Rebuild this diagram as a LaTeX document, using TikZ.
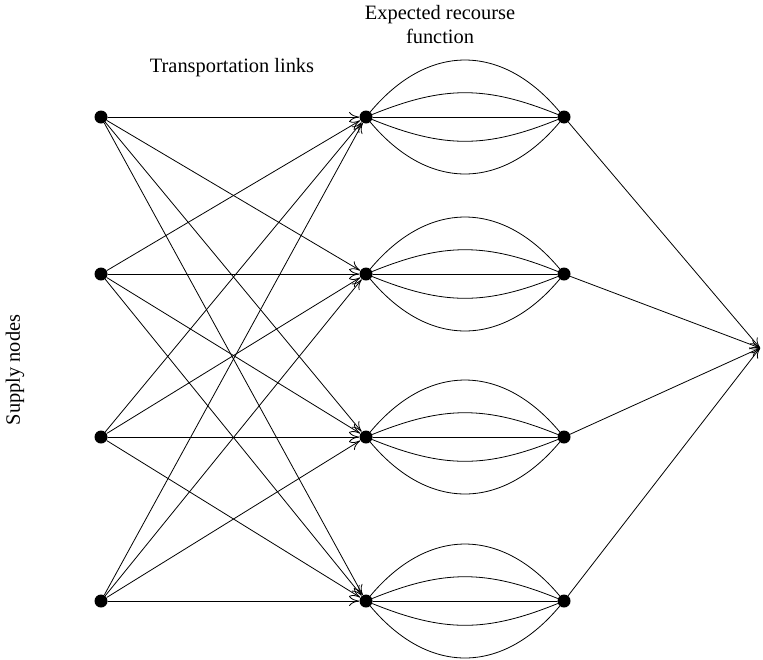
\documentclass[tikz,border=0pt]{standalone}
\usepackage{fontspec}
\setmainfont{Liberation Serif}
\usetikzlibrary{arrows.meta}

\begin{document}
\begin{tikzpicture}[x=0.5pt,y=-0.5pt,line join=round,line cap=round,>={To[length=5pt,width=5pt]},font=\fontsize{10.2}{12}\selectfont,
	dot/.style={circle,fill,inner sep=0pt,minimum size=6.5pt}]
	\useasboundingbox (0,0) rectangle (763,659);
	\def \xs{101};
	\def \xm{366};
	\def \xr{564};
	% nodes of the three columns
	\foreach \i/\y in {1/117,2/274,3/437,4/601}
	{
		\node[dot] (s\i) at (\xs,\y) {};
		\node[dot] (m\i) at (\xm,\y) {};
		\node[dot] (r\i) at (\xr,\y) {};
	}
	\coordinate (t) at (760,348);
	\foreach \i in {1,...,4}
	{
		\foreach \j in {1,...,4}
		{
			\draw[->] (s\i) -- (m\j);
		}
		\draw (m\i) -- (r\i);
		\draw (m\i) to[out=50,in=130,looseness=1.22] (r\i);
		\draw (m\i) to[out=22,in=158,looseness=1.07] (r\i);
		\draw (m\i) to[out=-22,in=-158,looseness=1.07] (r\i);
		\draw (m\i) to[out=-50,in=-130,looseness=1.22] (r\i);
		\draw[->] (r\i) -- (t);
	}
	% labels
	\node[rotate=90] (supply) at (15,370) {Supply nodes};
	\node (links) at (232,68) {Transportation links};
	\node[align=center] (recourse) at (440,25) {Expected recourse\\function};
\end{tikzpicture}
\end{document}
